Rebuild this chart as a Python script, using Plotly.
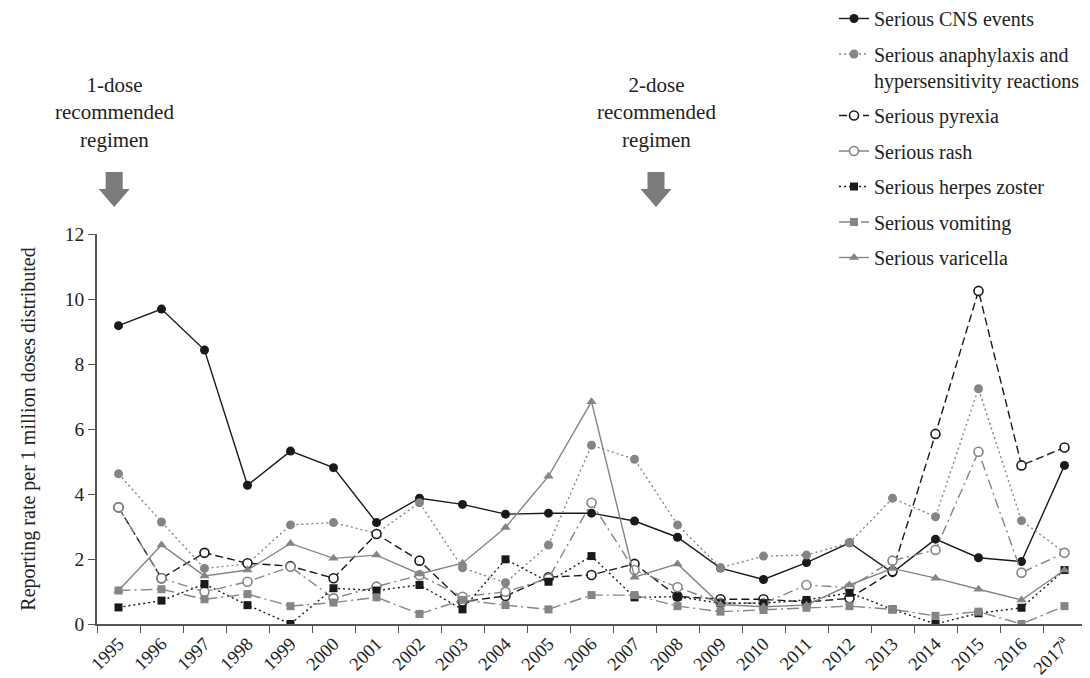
import plotly.graph_objects as go

years = ["1995", "1996", "1997", "1998", "1999", "2000", "2001", "2002", "2003", "2004",
         "2005", "2006", "2007", "2008", "2009", "2010", "2011", "2012", "2013", "2014",
         "2015", "2016", "2017<sup>a</sup>"]

cns = [9.18, 9.69, 8.43, 4.27, 5.32, 4.81, 3.12, 3.87, 3.68, 3.38, 3.41, 3.41, 3.17, 2.67,
       1.72, 1.37, 1.89, 2.50, 1.58, 2.61, 2.04, 1.92, 4.88]
anaphylaxis = [4.62, 3.14, 1.71, 1.85, 3.05, 3.12, 2.79, 3.73, 1.73, 1.27, 2.43, 5.50, 5.07, 3.05,
               1.73, 2.09, 2.12, 2.50, 3.87, 3.30, 7.24, 3.18, 2.20]
pyrexia = [3.59, 1.41, 2.19, 1.87, 1.78, 1.41, 2.77, 1.95, 0.69, 0.86, 1.44, 1.51, 1.85, 0.85,
           0.76, 0.76, 0.68, 0.79, 1.62, 5.85, 10.25, 4.88, 5.43]
rash = [3.59, 1.41, 0.99, 1.30, 1.76, 0.79, 1.15, 1.50, 0.84, 0.99, 1.40, 3.73, 1.66, 1.13,
        0.65, 0.64, 1.20, 1.12, 1.95, 2.28, 5.30, 1.58, 2.19]
herpes = [0.51, 0.72, 1.23, 0.58, 0.00, 1.10, 1.03, 1.20, 0.45, 1.99, 1.30, 2.09, 0.82, 0.84,
          0.64, 0.64, 0.74, 0.96, 0.45, 0.00, 0.33, 0.50, 1.66]
vomiting = [1.03, 1.07, 0.76, 0.92, 0.55, 0.66, 0.82, 0.31, 0.74, 0.58, 0.45, 0.89, 0.89, 0.55,
            0.38, 0.43, 0.50, 0.55, 0.45, 0.25, 0.38, 0.00, 0.55]
varicella = [1.03, 2.43, 1.48, 1.66, 2.48, 2.02, 2.12, 1.54, 1.87, 2.97, 4.55, 6.84, 1.44, 1.85,
             0.60, 0.53, 0.58, 1.20, 1.71, 1.41, 1.07, 0.74, 1.66]

BLACK = "#1a1a1a"
GRAY = "#858585"
FONT = "Liberation Serif, DejaVu Serif, serif"

series = [
    ("Serious CNS events", cns, BLACK, "solid", "circle", BLACK, BLACK, 9),
    ("Serious anaphylaxis and<br>hypersensitivity reactions", anaphylaxis, GRAY, "2px,3px", "circle", GRAY, GRAY, 9),
    ("Serious pyrexia", pyrexia, BLACK, "8px,4px", "circle-open", BLACK, "white", 9),
    ("Serious rash", rash, GRAY, "10px,4px,2px,4px", "circle-open", GRAY, "white", 9),
    ("Serious herpes zoster", herpes, BLACK, "2px,3px", "square", BLACK, BLACK, 8),
    ("Serious vomiting", vomiting, GRAY, "12px,4px,2px,4px", "square", GRAY, GRAY, 8),
    ("Serious varicella", varicella, GRAY, "solid", "triangle-up", GRAY, GRAY, 9),
]

fig = go.Figure()
for i, (name, vals, col, dash, sym, mcol, mfill, msize) in enumerate(series):
    if sym == "circle-open":
        marker = dict(symbol="circle", size=msize, color="white", line=dict(color=mcol, width=1.6))
    else:
        marker = dict(symbol=sym, size=msize, color=mfill, line=dict(width=0))
    fig.add_trace(go.Scatter(
        x=years, y=vals, name=name, mode="lines+markers",
        line=dict(color=col, width=1.4, dash=dash),
        marker=marker, legendgroup=f"g{i}",
    ))

# page body has an 8px margin: shrink the figure so the plot lands where the reference has it
OFF = 8
W, H = 1090 - OFF, 678 - OFF
PL, PR, PT, PB = 97, 1086, 234, 624      # plot area in page pixels
n = len(years)

def paper_y(Y):
    return (PB - Y) / (PB - PT)

def paper_x_idx(idx):
    return (idx + 0.5) / n

def arrow(idx):
    cx = paper_x_idx(idx)
    pw = 1.0 / (PR - PL)
    top, mid, tip = paper_y(172), paper_y(189), paper_y(207)
    sw, hw = 8.5 * pw, 15.5 * pw
    path = (f"M {cx - sw},{top} L {cx + sw},{top} L {cx + sw},{mid} L {cx + hw},{mid} "
            f"L {cx},{tip} L {cx - hw},{mid} L {cx - sw},{mid} Z")
    fig.add_shape(type="path", path=path, xref="paper", yref="paper",
                  fillcolor="#7b7b7b", line=dict(width=0))

arrow(-0.1)
arrow(12.5)
for idx, txt in [(-0.1, "1-dose<br>recommended<br>regimen"), (12.5, "2-dose<br>recommended<br>regimen")]:
    fig.add_annotation(x=paper_x_idx(idx), y=paper_y(112), xref="paper", yref="paper",
                       text=txt, showarrow=False, xanchor="center", yanchor="middle",
                       font=dict(family=FONT, size=21, color="#222"))

fig.update_layout(
    width=W, height=H,
    margin=dict(l=PL - OFF, r=W - (PR - OFF), t=PT - OFF, b=H - (PB - OFF), autoexpand=False),
    plot_bgcolor="white", paper_bgcolor="white",
    font=dict(family=FONT, size=19, color="#222"),
    showlegend=True,
    legend=dict(x=(834 - PL) / (PR - PL), y=paper_y(-1), xanchor="left", yanchor="top",
                xref="paper", yref="paper", font=dict(family=FONT, size=20, color="#222"),
                tracegroupgap=6.5, itemwidth=30, valign="top", bgcolor="rgba(0,0,0,0)",
                traceorder="grouped"),
)
fig.update_xaxes(type="category", range=[-0.5, n - 0.5], tickson="boundaries",
                 ticks="outside", ticklen=7, tickwidth=1.3, tickcolor="#555",
                 showline=True, linecolor="#555", linewidth=1.5, showgrid=False,
                 tickangle=-45, tickfont=dict(family=FONT, size=18.5, color="#222"),
                 automargin=False)
fig.update_yaxes(range=[0, 12], dtick=2, ticks="outside", ticklen=7, tickwidth=1.3,
                 tickcolor="#555", showline=True, linecolor="#555", linewidth=1.5,
                 showgrid=False, zeroline=False,
                 tickfont=dict(family=FONT, size=19.5, color="#222"),
                 title=dict(text="Reporting rate per 1 million doses distributed",
                            font=dict(family=FONT, size=20, color="#222"), standoff=24),
                 automargin=False)

fig.write_html("out.html")
